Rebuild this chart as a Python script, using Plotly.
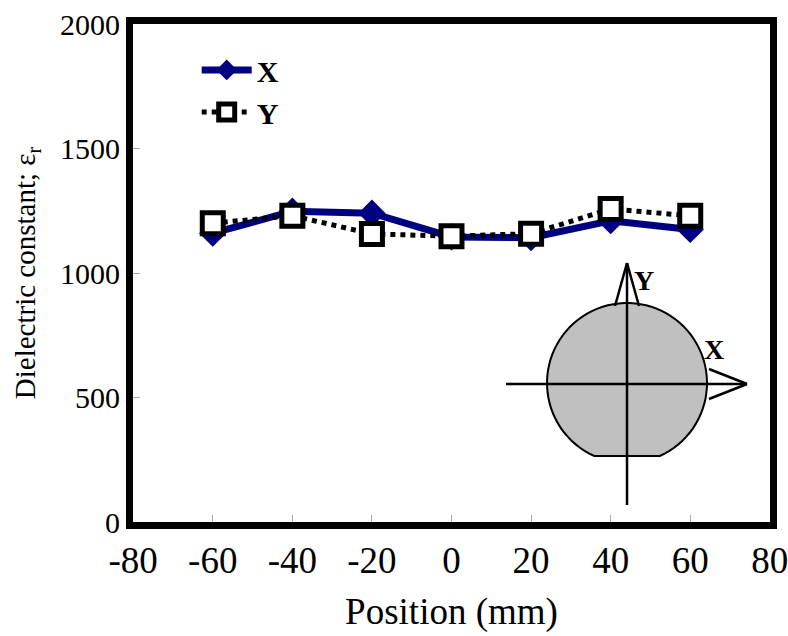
import numpy as np
import plotly.graph_objects as go

positions = [-60, -40, -20, 0, 20, 40, 60]
eps_x = [1160, 1248, 1240, 1145, 1142, 1210, 1175]
eps_y = [1200, 1230, 1157, 1148, 1158, 1257, 1230]
x_ticks = [-80, -60, -40, -20, 0, 20, 40, 60, 80]
y_ticks = [0, 500, 1000, 1500, 2000]

FONT = "Liberation Serif, Times New Roman, serif"
W, H = 788, 636
L, R, T, B = 133, 770, 24, 522

fig = go.Figure()
fig.add_trace(go.Scatter(
    x=positions, y=eps_x, name="<b>X</b>", mode="lines+markers",
    line=dict(color="#000080", width=7),
    marker=dict(symbol="diamond", size=21, color="#000080"),
))
fig.add_trace(go.Scatter(
    x=positions, y=eps_y, name="<b>Y</b>", mode="lines+markers",
    line=dict(color="black", width=5, dash="dot"),
    marker=dict(symbol="square", size=21, color="white",
                line=dict(color="black", width=5)),
))

def px(x):
    return (x - L) / (R - L)

def py(y):
    return (B - y) / (B - T)

# inset sample diagram (decoration)
cx, cy, r, cut = 627, 383, 80, 456
half = np.sqrt(r**2 - (cut - cy)**2)
a0 = np.arctan2(cut - cy, half)
angles = np.linspace(a0, np.pi - a0 - 2*np.pi, 80)
pts = [(cx + r*np.cos(a), cy + r*np.sin(a)) for a in angles]
path = "M " + " L ".join(f"{px(a):.4f},{py(b):.4f}" for a, b in pts) + " Z"
fig.add_shape(type="path", xref="paper", yref="paper", path=path,
              fillcolor="#c0c0c0", line=dict(color="black", width=2), layer="above")

def seg(x0, y0, x1, y1):
    fig.add_shape(type="line", xref="paper", yref="paper",
                  x0=px(x0), y0=py(y0), x1=px(x1), y1=py(y1),
                  line=dict(color="black", width=2.5), layer="above")

seg(627, 263, 627, 505)
seg(506, 384, 747, 384)
seg(627, 263, 615, 306)
seg(627, 263, 639, 306)
seg(747, 384, 709, 369)
seg(747, 384, 709, 399)

fig.add_annotation(xref="paper", yref="paper", x=px(656), y=py(280), text="<b>Y</b>",
                   showarrow=False, font=dict(family=FONT, size=28, color="black"))
fig.add_annotation(xref="paper", yref="paper", x=px(726), y=py(349), text="<b>X</b>",
                   showarrow=False, font=dict(family=FONT, size=28, color="black"))

fig.update_layout(
    width=W, height=H,
    margin=dict(l=L, r=W - R, t=T, b=H - B, autoexpand=False),
    paper_bgcolor="white", plot_bgcolor="white",
    font=dict(family=FONT, color="black"),
    showlegend=True,
    legend=dict(x=0.1, y=0.96, xanchor="left", yanchor="top",
                bgcolor="rgba(0,0,0,0)", font=dict(family=FONT, size=30),
                itemwidth=50, tracegroupgap=6),
    xaxis=dict(range=[-80.05, 80.05], tickvals=x_ticks, ticktext=[str(v) for v in x_ticks],
               automargin=False, ticklabeloverflow="allow",
               showgrid=False, zeroline=False, showline=True, linecolor="black",
               linewidth=7, mirror=True, ticks="inside", ticklen=7, tickcolor="#aaaaaa",
               tickwidth=1, tickfont=dict(size=37),
               title=dict(text="Position (mm)", font=dict(size=37), standoff=20)),
    yaxis=dict(range=[0, 2000], tickvals=y_ticks, automargin=False,
               ticklabeloverflow="allow",
               showgrid=False, zeroline=False, showline=True, linecolor="black",
               linewidth=7, mirror=True, ticks="inside", ticklen=7, tickcolor="#aaaaaa",
               tickwidth=1, tickfont=dict(size=30),
               title=dict(text="Dielectric constant; ε<sub>r</sub>", font=dict(size=29),
                          standoff=18)),
)

fig.write_html("out.html")
